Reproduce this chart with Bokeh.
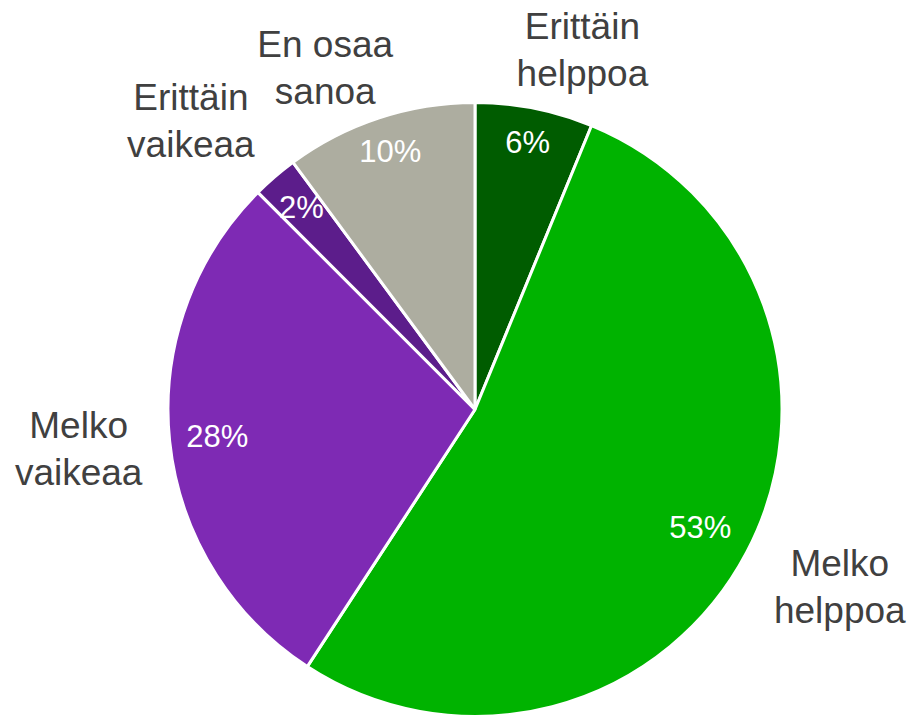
import math
from bokeh.plotting import figure
from bokeh.models import Range1d, ColumnDataSource
from bokeh.core.properties import value
from bokeh.embed import file_html
from bokeh.resources import INLINE

# ---- data ----
categories = ["Erittäin\nhelppoa", "Melko\nhelppoa", "Melko\nvaikeaa", "Erittäin\nvaikeaa", "En osaa\nsanoa"]
shares = [6.2, 53.0, 28.3, 2.4, 10.1]          # percent of answers
pct_labels = ["6%", "53%", "28%", "2%", "10%"]
colors = ["#005C00", "#00B300", "#7E2AB4", "#5C1D8B", "#ADADA0"]

# ---- layout (pixel-like data units, centre of pie at 0,0) ----
W, H = 910, 716
R = 307
cx_pix, cy_pix = 474.5, 409.0           # pie centre inside the frame (from top-left)
inner_r = [0.885, 0.829, 0.844, 0.868, 0.884]  # radial position of % labels
outer_off = [(48, 58), (93, -35), (-91, -8), (-84, 56), (-54, 50)]  # offset of category labels from rim

p = figure(width=W, height=H, output_backend="svg", toolbar_location=None,
           x_range=Range1d(-cx_pix, W - cx_pix), y_range=Range1d(-(H - cy_pix), cy_pix),
           min_border=0)
p.axis.visible = False
p.grid.visible = False
p.outline_line_color = None
p.background_fill_color = "white"

total = sum(shares)
starts, ends, mids = [], [], []
cum = 0.0
for s in shares:
    a0 = math.pi / 2 - 2 * math.pi * cum / total
    cum += s
    a1 = math.pi / 2 - 2 * math.pi * cum / total
    starts.append(a0)
    ends.append(a1)
    mids.append((a0 + a1) / 2)

src = ColumnDataSource(dict(start=starts, end=ends, color=colors))
p.wedge(x=0, y=0, radius=R, start_angle="start", end_angle="end", direction="clock",
        fill_color="color", line_color="white", line_width=3, source=src)

# percent labels
px = [R * f * math.cos(m) for f, m in zip(inner_r, mids)]
py = [R * f * math.sin(m) for f, m in zip(inner_r, mids)]
p.text(x=px, y=py, text=pct_labels, text_align="center", text_baseline="middle",
       text_color="white", text_font=value("Liberation Sans"), text_font_size="31px")

# category labels
ox = [R * math.cos(m) + o[0] for m, o in zip(mids, outer_off)]
oy = [R * math.sin(m) + o[1] for m, o in zip(mids, outer_off)]
p.text(x=ox, y=oy, text=categories, text_align="center", text_baseline="middle",
       text_color="#404040", text_font=value("Liberation Sans"), text_font_size="37px",
       text_line_height=1.14)

open("out.html", "w").write(file_html(p, INLINE))
